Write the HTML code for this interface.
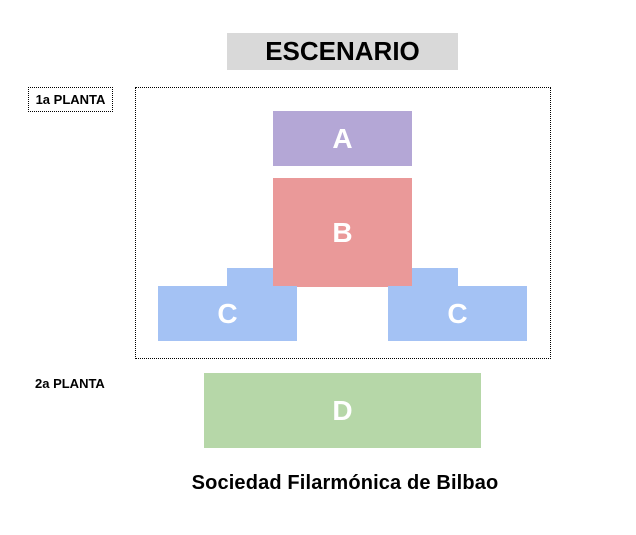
<!DOCTYPE html>
<html><head><style>
body{margin:0;width:636px;height:535px;background:#fff;position:relative;font-family:"Liberation Sans",sans-serif;overflow:hidden}
div{position:absolute;box-sizing:border-box}
.l{color:#fff;font-weight:bold;font-size:28px;display:flex;align-items:center;justify-content:center}
</style></head><body>
<div style="left:227px;top:33px;width:231px;height:37px;background:#d9d9d9;font-weight:bold;font-size:26px;display:flex;align-items:center;justify-content:center;color:#000">ESCENARIO</div>
<div style="left:28px;top:87px;width:85px;height:25px;border:1px dotted #000;font-weight:bold;font-size:13px;display:flex;align-items:center;justify-content:center">1a PLANTA</div>
<div style="left:135px;top:87px;width:416px;height:272px;border:1px dotted #000"></div>
<div class="l" style="left:273px;top:111px;width:139px;height:55px;background:#b4a7d6">A</div>
<div style="left:227px;top:268px;width:46px;height:20px;background:#a4c2f4"></div>
<div style="left:412px;top:268px;width:46px;height:20px;background:#a4c2f4"></div>
<div class="l" style="left:273px;top:178px;width:139px;height:109px;background:#ea9999">B</div>
<div class="l" style="left:158px;top:286px;width:139px;height:55px;background:#a4c2f4">C</div>
<div class="l" style="left:388px;top:286px;width:139px;height:55px;background:#a4c2f4">C</div>
<div style="left:35px;top:376px;font-weight:bold;font-size:13px">2a PLANTA</div>
<div class="l" style="left:204px;top:373px;width:277px;height:75px;background:#b6d7a8">D</div>
<div style="left:0;top:472px;width:690px;text-align:center;font-weight:bold;font-size:20px;letter-spacing:0.15px">Sociedad Filarmónica de Bilbao</div>
</body></html>
